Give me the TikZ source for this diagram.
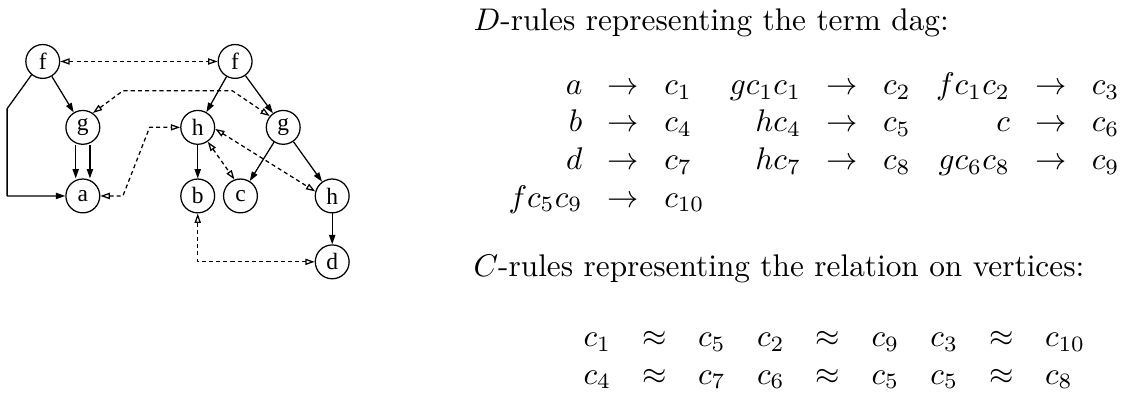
\documentclass[tikz,border=0pt]{standalone}
\usepackage{amsmath}
\usepackage{fontspec}
\usetikzlibrary{arrows.meta}
\newfontfamily\figfont{Liberation Serif}

\begin{document}
\begin{tikzpicture}[
  x=1cm,
  y=1cm,
  line join=round,
  vtx/.style={circle, draw, line width=0.4pt, minimum size=0.38cm, inner sep=0pt,
    font=\figfont\fontsize{7.5}{8}\selectfont},
  tree/.style={line width=0.4pt, -{Triangle[length=3pt, width=2pt]}},
  link/.style={line width=0.4pt, dash pattern=on 1.3pt off 1pt,
    {Triangle[open, length=3pt, width=2pt]}-{Triangle[open, length=3pt, width=2pt]}},
  rules/.style={anchor=base west, inner sep=0pt}
]
  \useasboundingbox (0,0) rectangle (12.71,4.41);

  % term dag
  \node[vtx] (f1) at (0.48,3.72) {f};
  \node[vtx] (g1) at (0.93,2.98) {g};
  \node[vtx] (a)  at (0.93,2.21) {a};
  \node[vtx] (f2) at (2.64,3.72) {f};
  \node[vtx] (h1) at (2.22,2.98) {h};
  \node[vtx] (g2) at (3.18,2.98) {g};
  \node[vtx] (b)  at (2.22,2.21) {b};
  \node[vtx] (c)  at (2.70,2.21) {c};
  \node[vtx] (h2) at (3.73,2.21) {h};
  \node[vtx] (d)  at (3.73,1.47) {d};

  \draw[tree] (f1) -- (g1);
  \draw[tree] (f1.230) -- (0.08,3.19) |- (a);
  \draw[tree] ([xshift=-0.08cm]g1.south) -- ([xshift=-0.08cm]a.north);
  \draw[tree] ([xshift=0.08cm]g1.south) -- ([xshift=0.08cm]a.north);
  \draw[tree] (f2) -- (h1);
  \draw[tree] (f2) -- (g2);
  \draw[tree] (h1) -- (b);
  \draw[tree] (g2) -- (c);
  \draw[tree] (g2) -- (h2);
  \draw[tree] (h2) -- (d);

  % relation on vertices
  \draw[link] (f1) -- (f2);
  \draw[link] (g1.55) -- (1.38,3.39) -- (2.61,3.39) -- (g2.140);
  \draw[link] (a.east) -- (1.38,2.21) -- (1.68,2.98) -- (h1.west);
  \draw[link] (h1.305) -- (c.110);
  \draw[link] (h1.355) -- (h2.165);
  \draw[link] (b) |- (d);

  % rules
  \node[rules] (dtitle) at (5.31,4.07)
    {$D$-rules representing the term dag:};
  \node[rules] (drules) at (5.56,3.35) {%
    \setlength{\arraycolsep}{4.05pt}$
    \begin{array}[t]{rcl rcl rcl}
      a & \rightarrow & c_1 & gc_1c_1 & \rightarrow & c_2 & fc_1c_2 & \rightarrow & c_3\\
      b & \rightarrow & c_4 & hc_4 & \rightarrow & c_5 & c & \rightarrow & c_6\\
      d & \rightarrow & c_7 & hc_7 & \rightarrow & c_8 & gc_6c_8 & \rightarrow & c_9\\
      fc_5c_9 & \rightarrow & c_{10}
    \end{array}$};

  \node[rules] (ctitle) at (5.31,1.30)
    {$C$-rules representing the relation on vertices:};
  \node[rules] (crules) at (6.37,0.52) {$
    \begin{array}[t]{rcl rcl rcl}
      c_1 & \approx & c_5 & c_2 & \approx & c_9 & c_3 & \approx & c_{10}\\
      c_4 & \approx & c_7 & c_6 & \approx & c_5 & c_5 & \approx & c_8
    \end{array}$};
\end{tikzpicture}
\end{document}
